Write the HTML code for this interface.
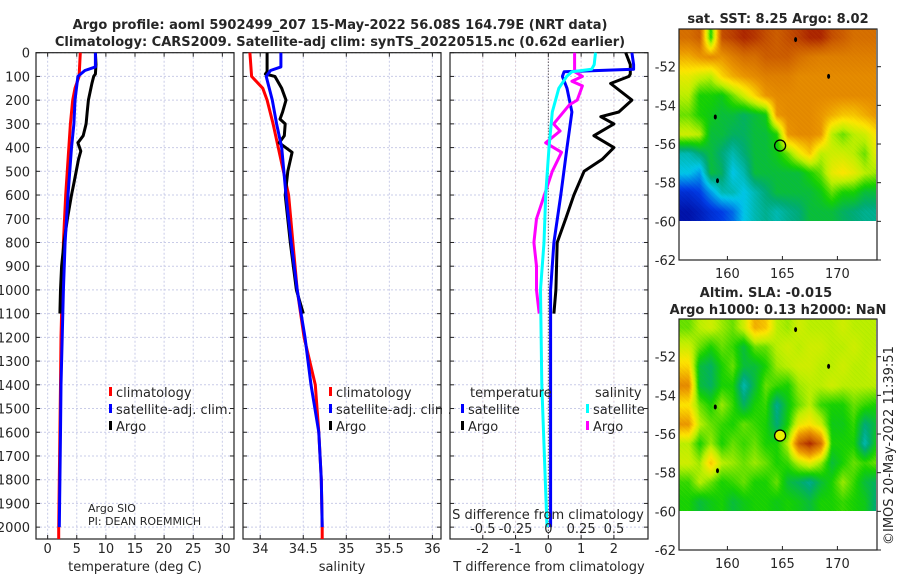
<!DOCTYPE html>
<html><head><meta charset="utf-8">
<style>
html,body{margin:0;padding:0;background:#fff;}
#wrap{position:relative;width:900px;height:580px;overflow:hidden;font-family:"DejaVu Sans","Liberation Sans",sans-serif;}
svg text{font-family:"DejaVu Sans","Liberation Sans",sans-serif;}
canvas{position:absolute;}
</style></head>
<body>
<div id="wrap">
<canvas id="sst" width="197" height="192" style="left:679px;top:29px"></canvas>
<canvas id="sla" width="197" height="192" style="left:679px;top:319px"></canvas>
<svg id="svg" width="900" height="580" style="position:absolute;left:0;top:0"></svg>
</div>
<script>
// ---- data ----
const tDepth   = [0,50,90,100,130,200,250,300,350,380,415,450,500,550,600,700,800,900,1000,1100];
const tArgo    = [8.2,8.3,8.2,7.9,7.6,7.0,6.8,6.6,6.1,5.2,5.7,5.3,4.9,4.5,4.1,3.4,2.8,2.4,2.2,2.1];
const satDepth = [0,60,75,100,200,300,400,600,800,1000,1200,1400,1600,1800,2000];
const tSat     = [8.2,8.2,6.4,5.2,4.7,4.5,4.1,3.5,3.0,2.7,2.5,2.3,2.2,2.1,2.0];
const climDepth= [0,100,150,200,300,600,800,1000,1200,1400,1600,1800,2000,2050];
const tClim    = [5.6,5.4,4.7,4.3,3.9,3.1,2.7,2.5,2.3,2.2,2.1,2.0,1.9,1.9];
const sClim    = [33.88,33.9,34.03,34.08,34.15,34.33,34.38,34.43,34.51,34.64,34.68,34.71,34.72,34.72];
const sSat     = [34.24,34.24,34.12,34.07,34.14,34.19,34.25,34.3,34.36,34.43,34.52,34.59,34.68,34.71,34.72];
const sDepthArgo=[0,80,90,100,150,200,250,280,300,350,380,420,500,600,800,1000,1100];
const sArgo    = [34.08,34.08,34.06,34.17,34.25,34.3,34.26,34.23,34.29,34.28,34.22,34.37,34.32,34.29,34.35,34.42,34.5];
const dTDepth  = [0,50,90,100,130,200,250,270,300,350,400,450,500,600,700,800,1000,1100];
const dTArgo   = [2.36,2.5,2.5,2.46,1.9,2.55,2.15,1.6,2.0,1.39,2.0,1.64,1.09,0.78,0.53,0.27,0.23,0.17];
const dSatDepth= [0,50,70,80,100,150,250,400,600,800,1000,1400,2000];
const dTSat    = [2.55,2.6,2.6,0.48,0.43,0.57,0.72,0.57,0.38,0.17,0.07,0.07,0.07];
const dSSat    = [0.36,0.35,0.33,0.18,0.14,0.08,0.03,0.005,-0.02,-0.033,-0.06,-0.05,-0.01];
const dSDepth  = [0,80,100,120,140,200,220,300,330,380,420,500,600,700,800,900,1000,1100];
const dSArgo   = [0.2,0.2,0.26,0.18,0.26,0.22,0.16,0.04,0.09,-0.02,0.1,0.03,-0.03,-0.09,-0.11,-0.09,-0.09,-0.07];
const depthTicks=[0,100,200,300,400,500,600,700,800,900,1000,1100,1200,1300,1400,1500,1600,1700,1800,1900,2000];
const tTicks=[0,5,10,15,20,25,30];
const sTicks=[34,34.5,35,35.5,36];
const dTTicks=[-2,-1,0,1,2];
const dSTicks=[-0.5,-0.25,0,0.25,0.5];
const lonTicks=[160,165,170];
const latTicks=[-52,-54,-56,-58,-60,-62];
// map grids: rows lat -50.5..-59.5, cols lon 156.5..173.5 (normalized colour value)
const sstGrid=[
[.85,.88,.5,.9,.92,.95,.93,.9,.88,.9,.92,.95,.95,.9,.88,.85,.85,.85],
[.75,.78,.8,.78,.82,.85,.85,.88,.88,.88,.85,.83,.82,.82,.82,.82,.82,.82],
[.65,.62,.6,.7,.75,.78,.8,.82,.82,.82,.8,.8,.8,.8,.8,.8,.8,.8],
[.6,.5,.5,.48,.55,.62,.7,.78,.8,.8,.8,.8,.8,.8,.8,.8,.8,.8],
[.55,.5,.48,.45,.45,.42,.45,.48,.78,.8,.8,.8,.78,.75,.72,.72,.75,.78],
[.62,.6,.45,.45,.42,.42,.45,.45,.5,.78,.8,.8,.78,.6,.55,.6,.62,.68],
[.35,.4,.45,.4,.35,.4,.45,.45,.48,.55,.65,.72,.6,.62,.62,.6,.55,.65],
[.3,.25,.45,.42,.3,.35,.45,.45,.45,.45,.45,.5,.55,.65,.68,.65,.6,.58],
[.12,.15,.25,.35,.35,.3,.35,.4,.45,.45,.45,.45,.48,.55,.5,.5,.45,.45],
[.05,.08,.12,.15,.2,.3,.35,.38,.35,.38,.4,.45,.45,.45,.42,.4,.38,.38]];
const slaGrid=[
[.55,.6,.62,.58,.55,.62,.75,.72,.6,.58,.62,.6,.6,.6,.62,.6,.6,.6],
[.62,.55,.5,.55,.52,.45,.55,.55,.6,.62,.6,.62,.62,.6,.6,.62,.6,.6],
[.7,.45,.42,.5,.55,.45,.45,.5,.58,.6,.62,.62,.6,.6,.62,.6,.6,.62],
[.8,.45,.42,.5,.5,.35,.45,.55,.52,.5,.58,.6,.6,.62,.6,.6,.6,.6],
[.68,.55,.5,.58,.52,.42,.5,.52,.38,.48,.55,.6,.52,.5,.5,.55,.52,.5],
[.78,.6,.55,.52,.5,.55,.52,.5,.4,.5,.65,.68,.62,.48,.48,.52,.4,.45],
[.6,.5,.58,.5,.55,.52,.55,.5,.5,.6,.88,.95,.85,.5,.5,.5,.35,.48],
[.62,.58,.72,.6,.58,.55,.58,.55,.5,.52,.6,.65,.58,.45,.5,.55,.52,.55],
[.52,.6,.55,.5,.52,.55,.5,.5,.55,.45,.42,.38,.45,.5,.58,.52,.45,.42],
[.5,.45,.48,.5,.45,.48,.5,.5,.48,.5,.48,.45,.5,.5,.52,.5,.48,.4]];
const floatLon=164.79, floatLat=-56.08;

const NS='http://www.w3.org/2000/svg';
const svg=document.getElementById('svg');
function el(tag,attrs,parent){const e=document.createElementNS(NS,tag);for(const k in attrs)e.setAttribute(k,attrs[k]);(parent||svg).appendChild(e);return e;}
function txt(s,x,y,opt){const e=el('text',Object.assign({x:x,y:y,'font-size':13,fill:'#262626'},opt||{}));e.textContent=s;return e;}

const Y0=52.7,Y1=539,DMAX=2050;
const yD=d=>Y0+d/DMAX*(Y1-Y0);
function xs(x0,x1,a,b){return v=>x0+(v-a)/(b-a)*(x1-x0);}
const P=[{x0:36,x1:234,sx:xs(36,234,-2,32)},{x0:243,x1:441,sx:xs(243,441,33.8,36.1)},{x0:450,x1:648,sx:xs(450,648,-3,3.04)}];
const sxS=xs(450,648,-0.75,0.76);

const gridTicks=[tTicks,sTicks,dTTicks];
P.forEach((p,i)=>{
  const g=el('g',{});
  
  
  gridTicks[i].forEach(v=>{const x=p.sx(v);el('line',{x1:x,x2:x,y1:Y0,y2:Y1,stroke:'#c9cce8','stroke-width':1,'stroke-dasharray':'2,2'},g);});
  if(i==2) dSTicks.forEach(v=>{const x=sxS(v);el('line',{x1:x,x2:x,y1:Y0,y2:Y1,stroke:'#e8cccc','stroke-width':1,'stroke-dasharray':'1,3'},g);});
  depthTicks.forEach(d=>{const y=yD(d);el('line',{x1:p.x0,x2:p.x1,y1:y,y2:y,stroke:'#c9cce8','stroke-width':1,'stroke-dasharray':'2,2'},g);
    el('line',{x1:p.x0,x2:p.x0+4,y1:y,y2:y,stroke:'#222'},g);el('line',{x1:p.x1-4,x2:p.x1,y1:y,y2:y,stroke:'#222'},g);});
  gridTicks[i].forEach(v=>{const x=p.sx(v);el('line',{x1:x,x2:x,y1:Y1,y2:Y1-4,stroke:'#222'},g);el('line',{x1:x,x2:x,y1:Y0,y2:Y0+4,stroke:'#222'},g);
    const t=txt(String(v),x,553,{'text-anchor':'middle'});});
  const fr=el('rect',{x:p.x0,y:Y0,width:p.x1-p.x0,height:Y1-Y0,fill:'none',stroke:'#222','stroke-width':1.2});
  
  
});
depthTicks.forEach(d=>{const t=txt(String(d),30,yD(d)+5,{'text-anchor':'end'});});
const zl=el('line',{x1:P[2].sx(0),x2:P[2].sx(0),y1:Y0,y2:Y1,stroke:'#333','stroke-width':1,'stroke-dasharray':'1,2'});



function line(xsArr,ds,sx,color,name){
  const pts=xsArr.map((v,i)=>sx(v).toFixed(1)+','+yD(ds[i]).toFixed(1)).join(' ');
  const e=el('polyline',{points:pts,fill:'none',stroke:color,'stroke-width':3,'stroke-linejoin':'round'});
  
  
}
line(tClim,climDepth,P[0].sx,'#f00','temp-climatology-line');
line(tArgo,tDepth,P[0].sx,'#000','temp-argo-line');
line(tSat,satDepth,P[0].sx,'#00f','temp-satellite-line');
line(sClim,climDepth,P[1].sx,'#f00','sal-climatology-line');
line(sArgo,sDepthArgo,P[1].sx,'#000','sal-argo-line');
line(sSat,satDepth,P[1].sx,'#00f','sal-satellite-line');
line(dTArgo,dTDepth,P[2].sx,'#000','dT-argo-line');
line(dTSat,dSatDepth,P[2].sx,'#00f','dT-satellite-line');
line(dSArgo,dSDepth,sxS,'#f0f','dS-argo-line');
line(dSSat,dSatDepth,sxS,'#0ff','dS-satellite-line');

function leg(x,y,color,label,name){
  const g=el('g',{});
  
  
  if(color) el('rect',{x:x,y:y-10,width:3,height:9,fill:color},g);
  const t=el('text',{x:x+7,y:y,'font-size':13,fill:'#262626'},g);t.textContent=label;
}
leg(109,397,'#f00','climatology','legend-climatology');
leg(109,414,'#00f','satellite-adj. clim.','legend-satellite');
leg(109,431,'#000','Argo','legend-argo');
leg(329,397,'#f00','climatology','legend2-climatology');
leg(329,414,'#00f','satellite-adj. clim.','legend2-satellite');
leg(329,431,'#000','Argo','legend2-argo');
leg(463,397,null,'temperature','legend-temperature-header');
leg(461,414,'#00f','satellite','legend-dT-satellite');
leg(461,431,'#000','Argo','legend-dT-argo');
leg(588,397,null,'salinity','legend-salinity-header');
leg(586,414,'#0ff','satellite','legend-dS-satellite');
leg(586,431,'#f0f','Argo','legend-dS-argo');
el('rect',{x:442,y:380,width:7,height:40,fill:'#fff'});
let t;
t=txt('Argo SIO',88,512,{'font-size':11});
t=txt('PI: DEAN ROEMMICH',88,525,{'font-size':11});
t=txt('S difference from climatology',548,519,{'text-anchor':'middle'});
dSTicks.forEach(v=>{const e=txt(String(v),sxS(v),533,{'text-anchor':'middle'});});
t=txt('temperature (deg C)',135,571,{'text-anchor':'middle'});
t=txt('salinity',342,571,{'text-anchor':'middle'});
t=txt('T difference from climatology',549,571,{'text-anchor':'middle'});
t=txt('Argo profile: aoml 5902499_207 15-May-2022 56.08S 164.79E (NRT data)',340,29,{'text-anchor':'middle','font-weight':'bold'});
t=txt('Climatology: CARS2009. Satellite-adj clim: synTS_20220515.nc (0.62d earlier)',340,46,{'text-anchor':'middle','font-weight':'bold'});

// ---- maps ----
const cmapStops=[[0,[0,0,140]],[0.15,[0,60,230]],[0.3,[0,200,235]],[0.4,[0,170,120]],[0.5,[20,210,0]],[0.6,[190,240,0]],[0.68,[255,230,0]],[0.78,[235,150,0]],[0.88,[205,95,0]],[1,[150,0,0]]];
function cmap(v){v=Math.max(0,Math.min(1,v));
  for(let i=1;i<cmapStops.length;i++){if(v<=cmapStops[i][0]){const [a,ca]=cmapStops[i-1],[b,cb]=cmapStops[i];const f=(v-a)/(b-a);return ca.map((c,k)=>c+(cb[k]-c)*f|0);}}
  return cmapStops[cmapStops.length-1][1];}
const LON0=155.6,LON1=173.6,LAT0=-50.05,LAT1=-62;
const MX0=679,MX1=877;
const mx=lon=>MX0+(lon-LON0)/(LON1-LON0)*(MX1-MX0);
const my=(lat,top)=>top+(LAT0-lat)/(LAT0-LAT1)*231;
function drawMap(id,grid){
  const c=document.getElementById(id),ctx=c.getContext('2d');
  const img=ctx.createImageData(c.width,c.height);
  for(let py=0;py<c.height;py++)for(let px=0;px<c.width;px++){
    const lon=LON0+(px+0.5)/(MX1-MX0)*(LON1-LON0);
    const lat=LAT0-(py+0.5)/231*(LAT0-LAT1);
    let fc=lon-156.5,fr=(-50.5)-lat;
    fc=Math.max(0,Math.min(17,fc));fr=Math.max(0,Math.min(9,fr));
    const c0=Math.floor(fc),r0=Math.floor(fr),c1=Math.min(17,c0+1),r1=Math.min(9,r0+1),a=fc-c0,b=fr-r0;
    const v=(grid[r0][c0]*(1-a)+grid[r0][c1]*a)*(1-b)+(grid[r1][c0]*(1-a)+grid[r1][c1]*a)*b;
    const n=((px*7+py*13)%5-2)*0.006;
    const col=cmap(v+n),i=(py*c.width+px)*4;
    img.data[i]=col[0];img.data[i+1]=col[1];img.data[i+2]=col[2];img.data[i+3]=255;}
  ctx.putImageData(img,0,0);
}
drawMap('sst',sstGrid);drawMap('sla',slaGrid);

[[29,'sst',false],[319,'sla',true]].forEach(([top,nm,fill])=>{
  const f=el('rect',{x:MX0,y:top,width:MX1-MX0,height:231,fill:'none',stroke:'#222','stroke-width':1.2});
  
  
  lonTicks.forEach(v=>{const x=mx(v);el('line',{x1:x,x2:x,y1:top+231,y2:top+227,stroke:'#222'});
    const e=txt(String(v),x,top+249,{'text-anchor':'middle'});});
  latTicks.forEach(v=>{const y=my(v,top);el('line',{x1:MX1,x2:MX1+4,y1:y,y2:y,stroke:'#222'});
    const e=txt(String(v),676,y+5,{'text-anchor':'end'});});
  [[166.2,-50.6],[169.2,-52.5],[158.9,-54.6],[159.1,-57.9]].forEach(([lo,la])=>el('ellipse',{cx:mx(lo),cy:my(la,top),rx:1.5,ry:2.5,fill:'#000'}));
  const m=el('circle',{cx:mx(floatLon),cy:my(floatLat,top),r:5.5,fill:fill?'#e8f000':'none',stroke:'#000','stroke-width':1.3});
  
  
});
el('rect',{x:649,y:56,width:27,height:490,fill:'none'});
t=txt('sat. SST: 8.25 Argo: 8.02',778,23,{'text-anchor':'middle','font-weight':'bold'});
t=txt('Altim. SLA: -0.015',766,297,{'text-anchor':'middle','font-weight':'bold'});
t=txt('Argo h1000: 0.13 h2000: NaN',778,314,{'text-anchor':'middle','font-weight':'bold'});
t=txt('©IMOS 20-May-2022 11:39:51',0,0,{'transform':'translate(893,545) rotate(-90)','font-size':13});
</script>
</body></html>
